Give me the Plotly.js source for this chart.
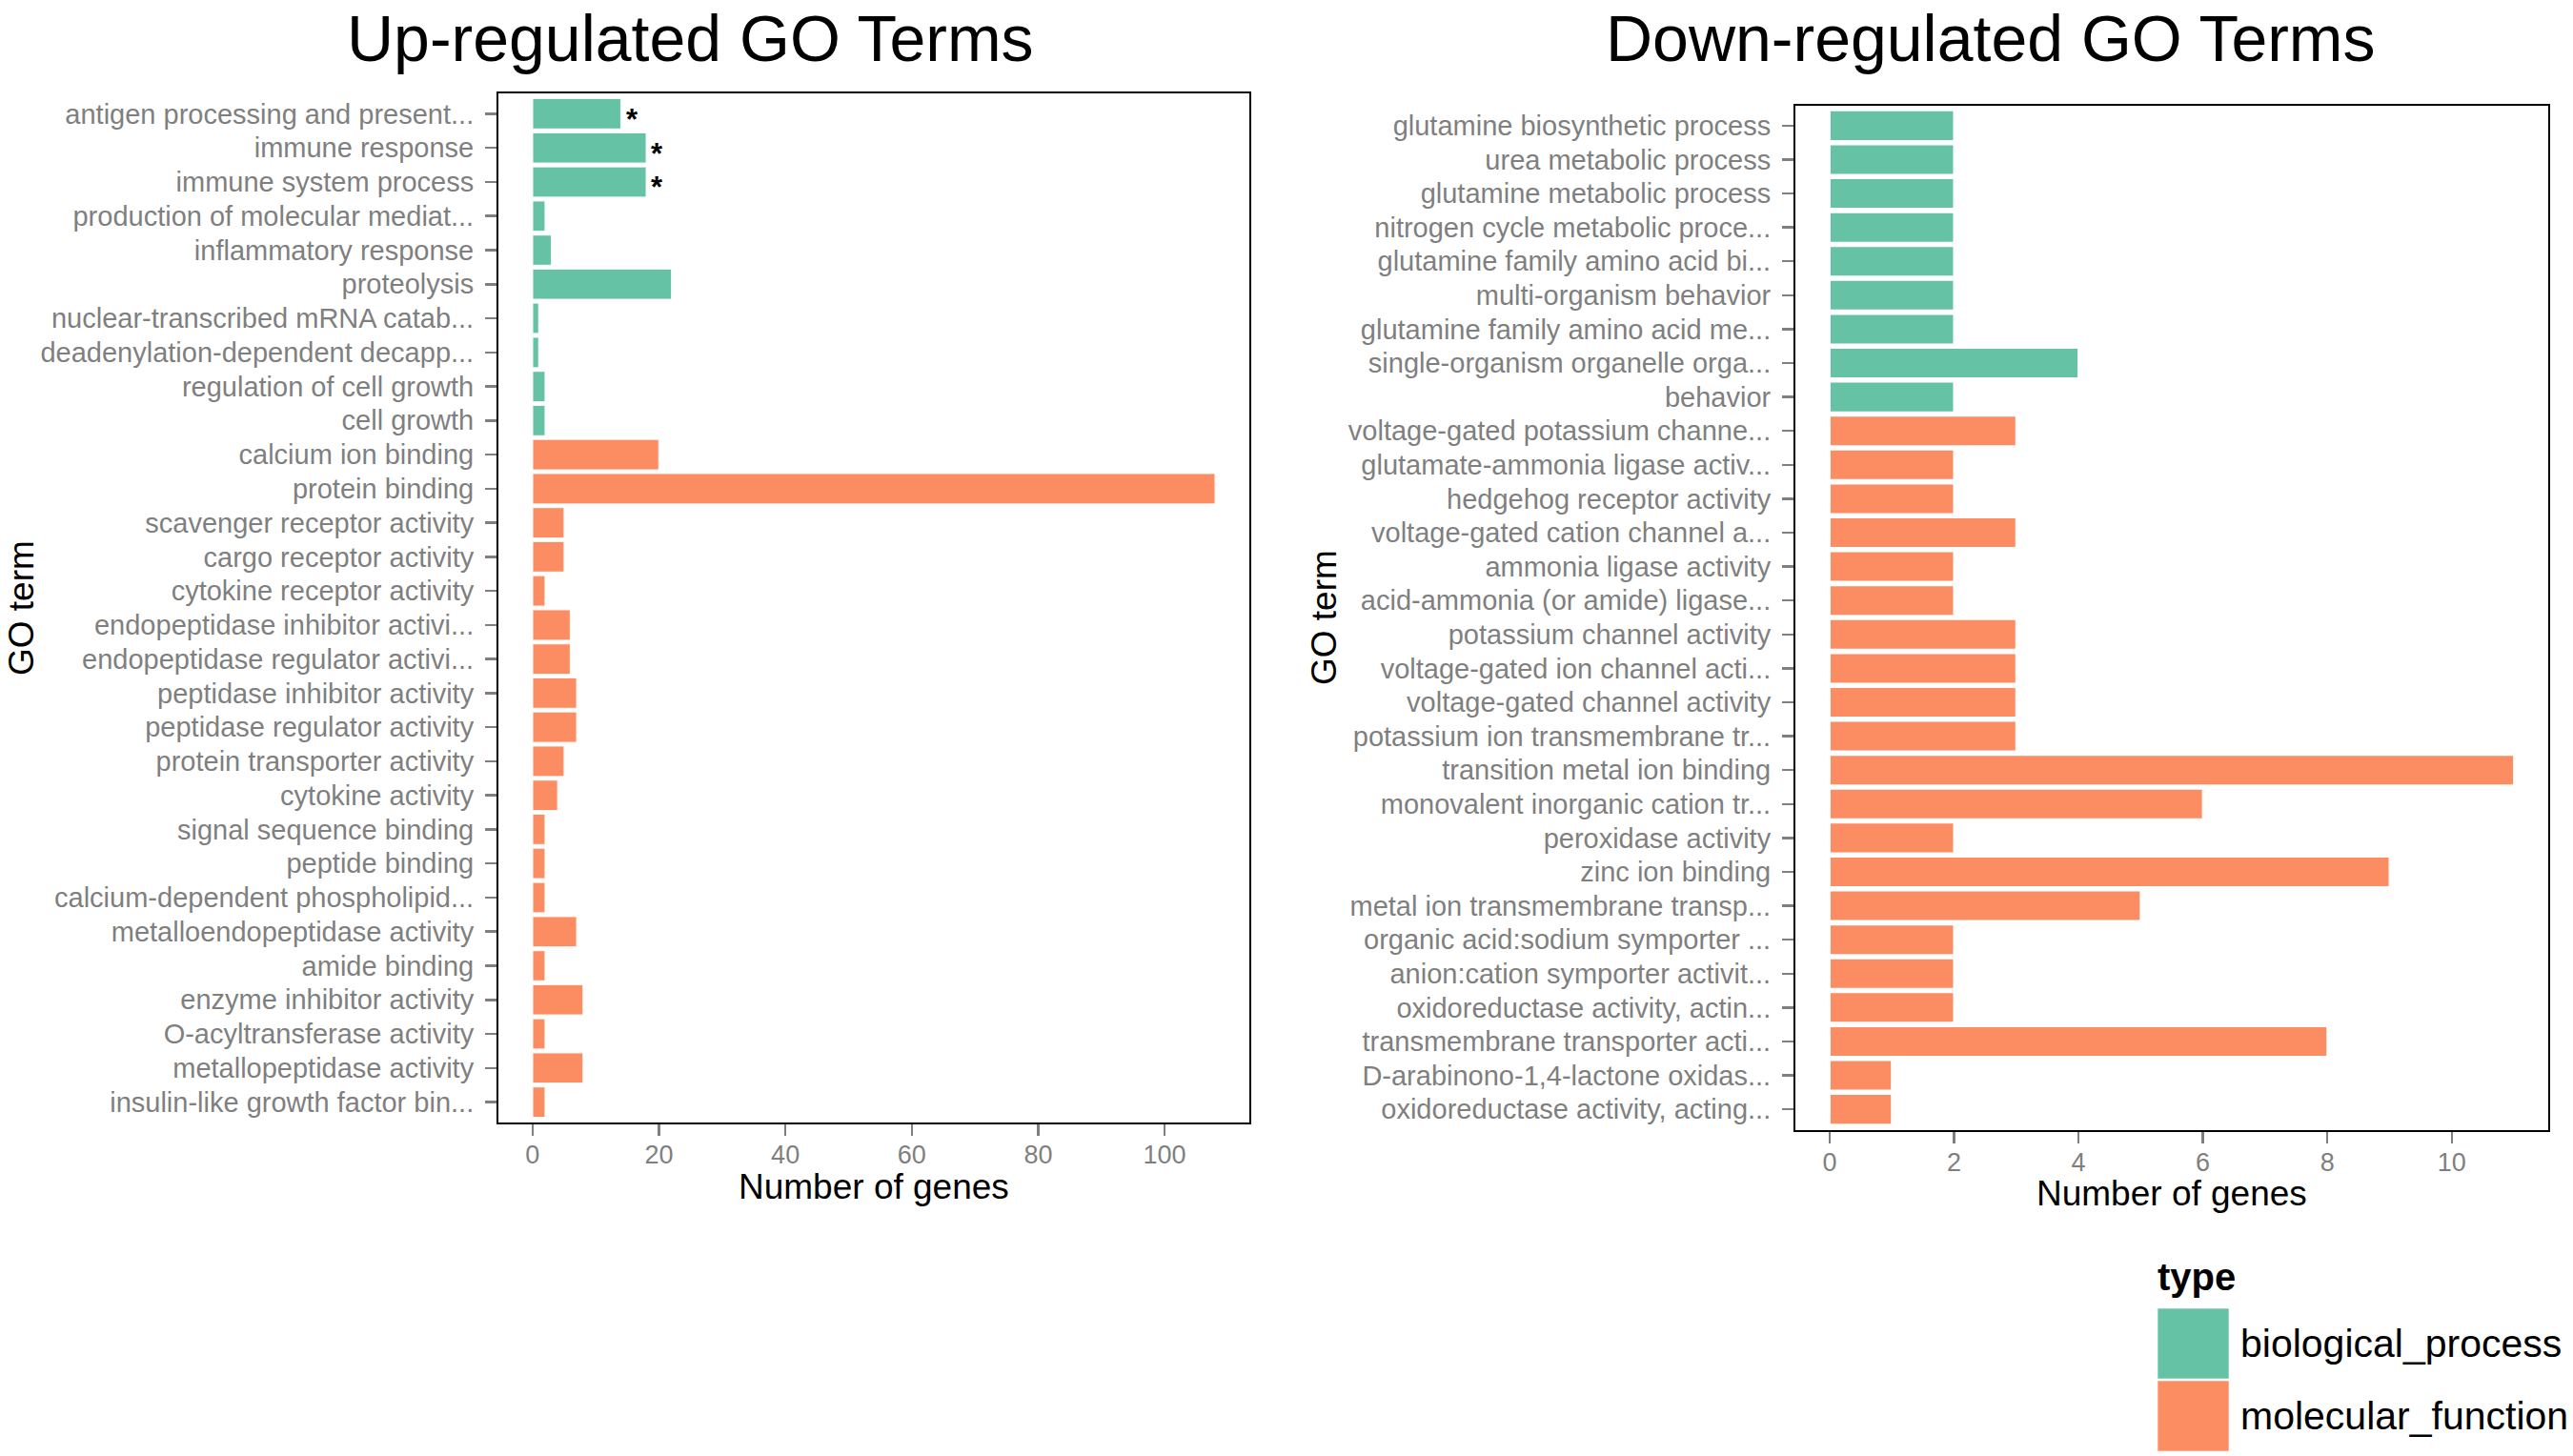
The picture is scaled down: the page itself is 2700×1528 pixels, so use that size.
<!DOCTYPE html>
<html>
<head>
<meta charset="utf-8">
<script src="https://cdn.plot.ly/plotly-3.0.1.min.js"></script>
<style>html,body{margin:0;padding:0;background:#fff;}#chart{width:2700px;height:1528px;}</style>
</head>
<body>
<div id="chart"></div>
<script>
// ---------- DATA ----------
const upTerms = [
  "antigen processing and present...", "immune response", "immune system process",
  "production of molecular mediat...", "inflammatory response", "proteolysis",
  "nuclear-transcribed mRNA catab...", "deadenylation-dependent decapp...",
  "regulation of cell growth", "cell growth", "calcium ion binding", "protein binding",
  "scavenger receptor activity", "cargo receptor activity", "cytokine receptor activity",
  "endopeptidase inhibitor activi...", "endopeptidase regulator activi...",
  "peptidase inhibitor activity", "peptidase regulator activity", "protein transporter activity",
  "cytokine activity", "signal sequence binding", "peptide binding",
  "calcium-dependent phospholipid...", "metalloendopeptidase activity", "amide binding",
  "enzyme inhibitor activity", "O-acyltransferase activity", "metallopeptidase activity",
  "insulin-like growth factor bin..."
];
const upValues = [14, 18, 18, 2, 3, 22, 1, 1, 2, 2, 20, 108, 5, 5, 2, 6, 6, 7, 7, 5, 4, 2, 2, 2, 7, 2, 8, 2, 8, 2];
const upTypes = ["BP","BP","BP","BP","BP","BP","BP","BP","BP","BP",
  "MF","MF","MF","MF","MF","MF","MF","MF","MF","MF","MF","MF","MF","MF","MF","MF","MF","MF","MF","MF"];
const upStarred = ["antigen processing and present...", "immune response", "immune system process"];

const downTerms = [
  "glutamine biosynthetic process", "urea metabolic process", "glutamine metabolic process",
  "nitrogen cycle metabolic proce...", "glutamine family amino acid bi...", "multi-organism behavior",
  "glutamine family amino acid me...", "single-organism organelle orga...", "behavior",
  "voltage-gated potassium channe...", "glutamate-ammonia ligase activ...", "hedgehog receptor activity",
  "voltage-gated cation channel a...", "ammonia ligase activity", "acid-ammonia (or amide) ligase...",
  "potassium channel activity", "voltage-gated ion channel acti...", "voltage-gated channel activity",
  "potassium ion transmembrane tr...", "transition metal ion binding", "monovalent inorganic cation tr...",
  "peroxidase activity", "zinc ion binding", "metal ion transmembrane transp...",
  "organic acid:sodium symporter ...", "anion:cation symporter activit...",
  "oxidoreductase activity, actin...", "transmembrane transporter acti...",
  "D-arabinono-1,4-lactone oxidas...", "oxidoreductase activity, acting..."
];
const downValues = [2, 2, 2, 2, 2, 2, 2, 4, 2, 3, 2, 2, 3, 2, 2, 3, 3, 3, 3, 11, 6, 2, 9, 5, 2, 2, 2, 8, 1, 1];
const downTypes = ["BP","BP","BP","BP","BP","BP","BP","BP","BP",
  "MF","MF","MF","MF","MF","MF","MF","MF","MF","MF","MF","MF","MF","MF","MF","MF","MF","MF","MF","MF","MF"];

const typeKeys = ["BP", "MF"];
const typeNames = ["biological_process", "molecular_function"];
const typeColors = {BP: "#66C2A5", MF: "#FC8D62"};

const titles = ["Up-regulated GO Terms", "Down-regulated GO Terms"];
const xTitle = "Number of genes";
const yTitle = "GO term";
const legendTitle = "type";

// ---------- LAYOUT HELPERS ----------
const W = 2700, H = 1528;
const px = x => x / W;
const py = y => 1 - y / H;
const FONT = "Liberation Sans, Arial, Helvetica, sans-serif";
const GREY = "#7F7F7F";

const traces = [
  {
    type: "bar", orientation: "h", x: upValues, y: upTerms,
    xaxis: "x", yaxis: "y", width: 0.9,
    marker: {color: upTypes.map(t => typeColors[t]), line: {color: "rgba(255,255,255,0.85)", width: 1.5}},
    showlegend: false, hoverinfo: "x+y"
  },
  {
    type: "bar", orientation: "h", x: downValues, y: downTerms,
    xaxis: "x2", yaxis: "y2", width: 0.9,
    marker: {color: downTypes.map(t => typeColors[t]), line: {color: "#ffffff", width: 2}},
    showlegend: false, hoverinfo: "x+y"
  }
];

function xAxis(domain, range, dtick, anchor) {
  return {
    domain: domain, range: range, dtick: dtick, tick0: 0, anchor: anchor,
    showgrid: false, zeroline: false,
    showline: true, mirror: true, linecolor: "#000", linewidth: 2,
    ticks: "outside", ticklen: 12, tickwidth: 2.5, tickcolor: GREY,
    ticklabelstandoff: -3,
    tickfont: {family: FONT, size: 27, color: GREY}
  };
}
function yAxis(domain, cats, anchor) {
  return {
    domain: domain, type: "category", categoryorder: "array", categoryarray: cats,
    range: [cats.length - 1 + 0.6, -0.6], anchor: anchor,
    showgrid: false, zeroline: false,
    showline: true, mirror: true, linecolor: "#000", linewidth: 2,
    ticks: "outside", ticklen: 12, tickwidth: 2.5, tickcolor: GREY,
    ticklabelstandoff: 6,
    tickfont: {family: FONT, size: 29, color: GREY}
  };
}

const annotations = [];
// panel titles
annotations.push({xref: "paper", yref: "paper", x: px(724), y: py(0), xanchor: "center", yanchor: "top",
  text: titles[0], showarrow: false, font: {family: FONT, size: 68, color: "#000"}});
annotations.push({xref: "paper", yref: "paper", x: px(2089), y: py(0), xanchor: "center", yanchor: "top",
  text: titles[1], showarrow: false, font: {family: FONT, size: 68, color: "#000"}});
// x titles
annotations.push({xref: "paper", yref: "paper", x: px(917), y: py(1245), xanchor: "center", yanchor: "middle",
  text: xTitle, showarrow: false, font: {family: FONT, size: 37, color: "#000"}});
annotations.push({xref: "paper", yref: "paper", x: px(2279), y: py(1252), xanchor: "center", yanchor: "middle",
  text: xTitle, showarrow: false, font: {family: FONT, size: 37, color: "#000"}});
// y titles
annotations.push({xref: "paper", yref: "paper", x: px(23), y: py(638), xanchor: "center", yanchor: "middle",
  text: yTitle, textangle: -90, showarrow: false, font: {family: FONT, size: 37, color: "#000"}});
annotations.push({xref: "paper", yref: "paper", x: px(1390), y: py(648), xanchor: "center", yanchor: "middle",
  text: yTitle, textangle: -90, showarrow: false, font: {family: FONT, size: 37, color: "#000"}});
// significance stars
upTerms.forEach((t, i) => {
  if (upStarred.includes(t)) {
    annotations.push({xref: "x", yref: "y", x: upValues[i], y: t, xanchor: "left", yanchor: "middle",
      xshift: 4, yshift: -6, text: "<b>*</b>", showarrow: false, borderpad: 0,
      font: {family: FONT, size: 31, color: "#000"}});
  }
});
// legend
annotations.push({xref: "paper", yref: "paper", x: px(2262), y: py(1340), xanchor: "left", yanchor: "middle",
  text: "<b>" + legendTitle + "</b>", showarrow: false, font: {family: FONT, size: 40, color: "#000"}});
const shapes = [];
typeKeys.forEach((k, i) => {
  const top = 1373 + i * 76;
  shapes.push({type: "rect", xref: "paper", yref: "paper", x0: px(2264), x1: px(2339), y0: py(top), y1: py(top + 74),
    fillcolor: typeColors[k], line: {color: "rgba(255,255,255,0.6)", width: 1}});
  annotations.push({xref: "paper", yref: "paper", x: px(2349), y: py(top + 37), xanchor: "left", yanchor: "middle",
    text: typeNames[i], showarrow: false, font: {family: FONT, size: 41, color: "#000"}});
});

const layout = {
  width: W, height: H,
  margin: {l: 0, r: 0, t: 0, b: 0},
  paper_bgcolor: "#fff", plot_bgcolor: "#fff",
  showlegend: false, bargap: 0.1,
  xaxis: xAxis([px(523), px(1311)], [-5.4, 113.4], 20, "y"),
  yaxis: yAxis([py(1178), py(98)], upTerms, "x"),
  xaxis2: xAxis([px(1884), px(2674)], [-0.55, 11.55], 2, "y2"),
  yaxis2: yAxis([py(1185.5), py(110.5)], downTerms, "x2"),
  annotations: annotations,
  shapes: shapes
};

Plotly.newPlot("chart", traces, layout, {displayModeBar: false, staticPlot: true});
</script>
</body>
</html>
